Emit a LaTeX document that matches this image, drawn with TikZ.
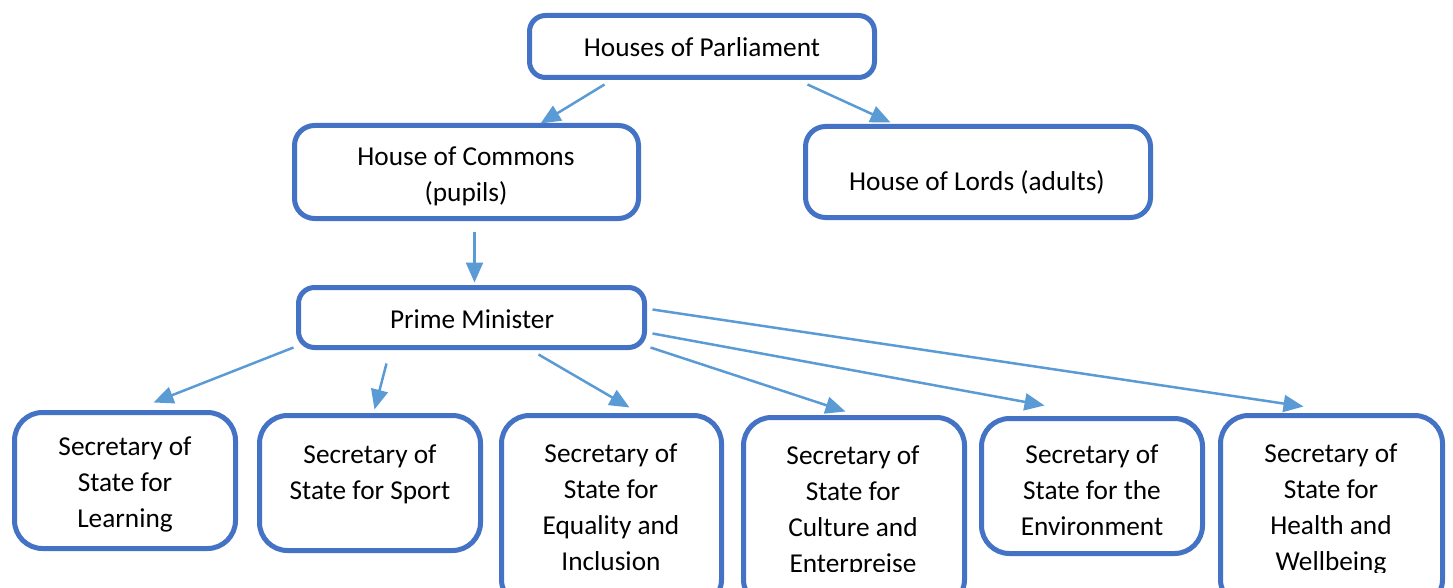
\documentclass[tikz,border=0pt]{standalone}
\usepackage{fontspec}
\setmainfont{Carlito}
\usetikzlibrary{arrows.meta,calc}
\definecolor{boxblue}{HTML}{4472C4}
\definecolor{arrowblue}{HTML}{5B9BD5}
\tikzset{
  box/.style={draw=boxblue, line width=5pt, fill=white, inner sep=0pt, rectangle},
  topbox/.style={box, rounded corners=16pt},
  botbox/.style={box, rounded corners=28pt},
  txt/.style={align=center, inner sep=0pt, font=\fontsize{27.3}{36}\selectfont},
  conn/.style={draw=arrowblue, line width=2.5pt, -{Triangle[length=20pt,width=17pt]}}
}
\begin{document}
\begin{tikzpicture}[x=1pt,y=-1pt]
\useasboundingbox (0,0) rectangle (1453,588);
% boxes
\node[topbox, minimum width=345pt, minimum height=62pt] (hop) at (702,46.5) {};
\node[topbox, rounded corners=20pt, minimum width=344pt, minimum height=93pt] (hoc) at (466.5,172) {};
\node[topbox, rounded corners=20pt, minimum width=345pt, minimum height=91pt] (hol) at (978,172) {};
\node[topbox, minimum width=346pt, minimum height=60pt] (pm) at (471.5,317.5) {};
\node[botbox, minimum width=221pt, minimum height=136pt] (s1) at (125,480.5) {};
\node[botbox, minimum width=221pt, minimum height=135pt] (s2) at (370,483) {};
\node[botbox, minimum width=220pt, minimum height=192pt] (s3) at (611.5,511.5) {};
\node[botbox, minimum width=221pt, minimum height=190pt] (s4) at (854,512.5) {};
\node[botbox, minimum width=221pt, minimum height=135pt] (s5) at (1092,486) {};
\node[botbox, minimum width=222pt, minimum height=192pt] (s6) at (1331.5,511.5) {};
% texts
\node[txt] (thop) at (702,47) {Houses of Parliament};
\node[txt] (thoc) at (466,176) {House of Commons\\(pupils)};
\node[txt] (thol) at (977,182) {House of Lords (adults)};
\node[txt] (tpm) at (472,319) {Prime Minister};
\node[txt] (ts1) at (125,484) {Secretary of\\State for\\Learning};
\node[txt] (ts2) at (370,474.5) {Secretary of\\State for Sport};
\node[txt] (ts5) at (1092,490) {Secretary of\\State for the\\Environment};
\begin{scope}
\clip (499,400) rectangle (724,574);
\node[txt] (ts3) at (611,507) {Secretary of\\State for\\Equality and\\Inclusion};
\end{scope}
\begin{scope}
\clip (741,400) rectangle (967,571);
\node[txt] (ts4) at (853,511) {Secretary of\\State for\\Culture and\\Enterpreise};
\end{scope}
\begin{scope}
\clip (1218,400) rectangle (1445,572.5);
\node[txt] (ts6) at (1331,509) {Secretary of\\State for\\Health and\\Wellbeing};
\end{scope}
% connectors
\draw[conn] ($(hop.south west)+(77.5,4.5)$) -- ($(hoc.north west)+(248.5,0.5)$);
\draw[conn] ($(hop.south west)+(280.5,4.5)$) -- ($(hol.north west)+(87.5,-1.5)$);
\draw[conn] ($(hoc.south west)+(182.5,10.5)$) -- ($(pm.north west)+(178.5,-2.5)$);
\draw[conn] ($(pm.south west)+(-2.5,-2.5)$) -- ($(s1.north west)+(141.5,-7.5)$);
\draw[conn] ($(pm.south west)+(90.5,13.5)$) -- ($(s2.north west)+(117.5,-3.5)$);
\draw[conn] ($(pm.south west)+(242.5,4.5)$) -- ($(s3.north west)+(130.5,-5.5)$);
\draw[conn] ($(pm.south east)+(3.5,-2.5)$) -- ($(s4.north west)+(104.5,-3.5)$);
\draw[conn] ($(pm.south east)+(5.5,-16.5)$) -- ($(s5.north west)+(65.5,-10.5)$);
\draw[conn] ($(pm.north east)+(5.5,24.5)$) -- ($(s6.north west)+(85.5,-6.5)$);
\end{tikzpicture}
\end{document}
